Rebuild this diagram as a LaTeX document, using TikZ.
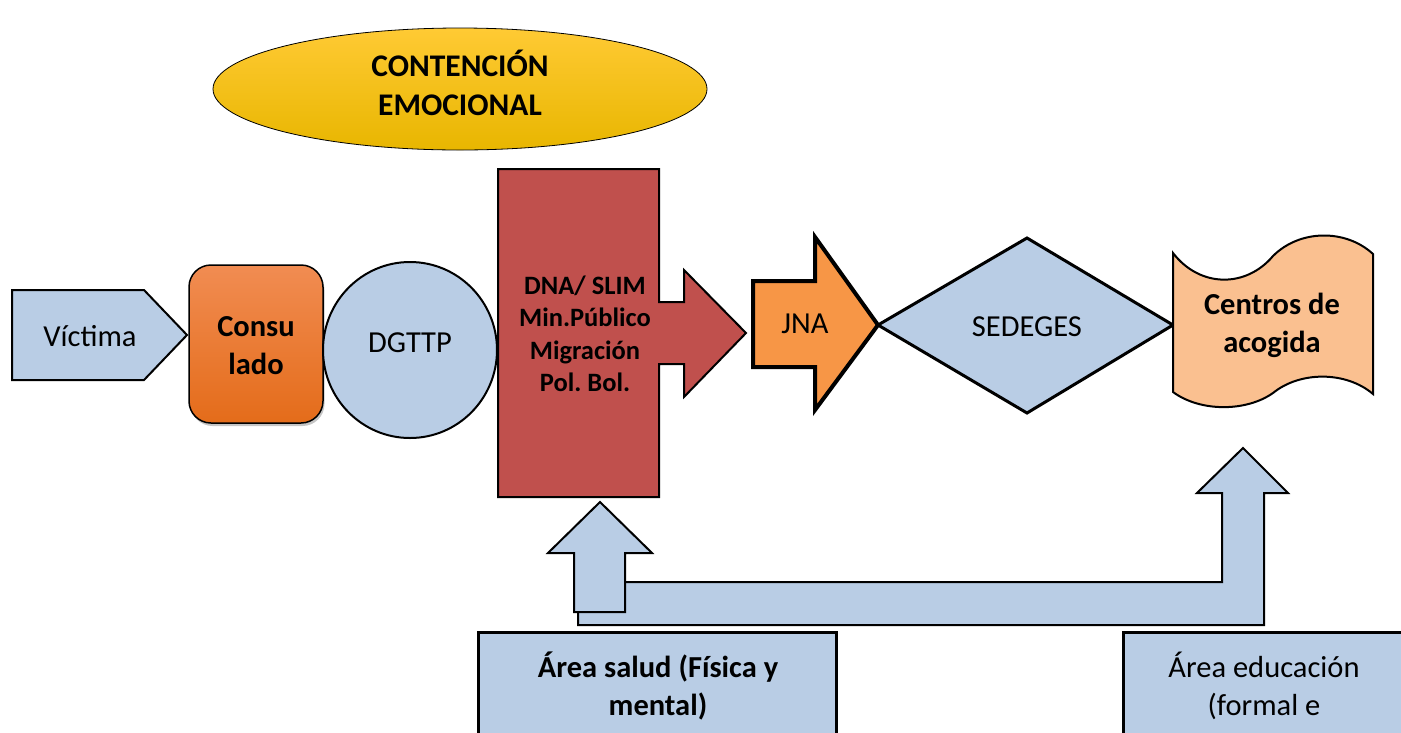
\documentclass[tikz,border=0pt]{standalone}
\usepackage{fontspec}
\setmainfont{Carlito}
\usetikzlibrary{shadows}
\frenchspacing
\definecolor{lblue}{RGB}{185,205,229}
\definecolor{redbox}{RGB}{192,80,77}
\definecolor{jnaor}{RGB}{247,150,70}
\definecolor{peach}{RGB}{250,192,144}
\definecolor{constop}{RGB}{241,140,82}
\definecolor{consbot}{RGB}{228,108,26}
\definecolor{yeltop}{RGB}{255,202,52}
\definecolor{yelmid}{RGB}{255,192,0}
\definecolor{yelbot}{RGB}{232,182,0}
\tikzset{
  txt/.style={font=\fontsize{30.5}{38}\selectfont, align=center, inner sep=0pt, text=black},
  btxt/.style={txt, font=\fontsize{30.5}{38}\selectfont\bfseries},
  rtxt/.style={txt, font=\fontsize{26.5}{32.5}\selectfont\bfseries},
  shapeline/.style={draw=black, line width=2pt},
}
\begin{document}
\begin{tikzpicture}[x=1pt,y=-1pt,line join=miter]
\useasboundingbox (0,0) rectangle (1401,732);
\clip (0,0) rectangle (1401,732);
\fill[white] (0,0) rectangle (1401,732);

% top ellipse
\shade[top color=yeltop, middle color=yelmid, bottom color=yelbot, draw=black, line width=0.8pt]
  (460,89) ellipse [x radius=247pt, y radius=61pt];
\node[btxt, font=\fontsize{31.5}{39}\selectfont\bfseries] (cont) at (460,83) {CONTENCIÓN\\EMOCIONAL};

% Victima pentagon
\filldraw[fill=lblue, shapeline] (12,290) -- (144,290) -- (187,335) -- (144,380) -- (12,380) -- cycle;
\node[txt] (victima) at (90,336) {Víctima};

% Consulado
\shade[top color=constop, bottom color=consbot, draw=black, line width=1.5pt, rounded corners=22pt,
  drop shadow={shadow xshift=1.5pt, shadow yshift=-3pt, opacity=0.45}]
  (189,265) rectangle (323,423);
\node[btxt] (consulado) at (256,346) {Consu\\lado};

% DGTTP
\filldraw[fill=lblue, shapeline] (410,350) ellipse [x radius=87pt, y radius=88pt];
\node[txt] (dgttp) at (410,343) {DGTTP};

% red block arrow
\filldraw[fill=redbox, shapeline] (498,169) -- (659,169) -- (659,302) -- (684,302) -- (684,270)
  -- (746,333) -- (684,397) -- (684,364) -- (659,364) -- (659,497) -- (498,497) -- cycle;
\node[rtxt] (dna) at (585,334) {DNA/ SLIM\\Min.Público\\Migración\\Pol. Bol.};

% JNA arrow
\filldraw[fill=jnaor, draw=black, line width=4pt] (753,281) -- (815,281) -- (815,237) -- (878,325)
  -- (815,410) -- (815,367) -- (753,367) -- cycle;
\node[txt] (jna) at (805,324) {JNA};

% SEDEGES diamond
\filldraw[fill=lblue, draw=black, line width=3pt] (878,325) -- (1027,238) -- (1173,325) -- (1027,413) -- cycle;
\node[txt] (sedeges) at (1027,327) {SEDEGES};

% Centros de acogida (punched tape)
\filldraw[fill=peach, shapeline] (1173,253) .. controls (1200,288) and (1246,288) .. (1273,256)
  .. controls (1300,229) and (1346,229) .. (1373,254) -- (1373,394)
  .. controls (1346,371) and (1300,371) .. (1273,393)
  .. controls (1246,412) and (1200,412) .. (1173,392) -- cycle;
\node[btxt] (centros) at (1272,325) {Centros de\\acogida};

% bent arrow to Centros
\filldraw[fill=lblue, shapeline] (578,625) -- (578,582) -- (1222,582) -- (1222,493) -- (1197,493)
  -- (1243,448) -- (1288,493) -- (1264,493) -- (1264,625) -- cycle;
% up arrow to red block
\filldraw[fill=lblue, shapeline] (574,612) -- (574,553) -- (548,553) -- (600,502) -- (652,553)
  -- (625,553) -- (625,612) -- cycle;

% bottom boxes
\filldraw[fill=lblue, draw=black, line width=3pt] (478,632) rectangle (836,760);
\node[btxt] (salud) at (658,686) {Área salud (Física y\\mental)};
\filldraw[fill=lblue, draw=black, line width=3pt] (1123,632) rectangle (1430,760);
\node[txt] (educ) at (1264,686) {Área educación\\(formal e};
\end{tikzpicture}
\end{document}
